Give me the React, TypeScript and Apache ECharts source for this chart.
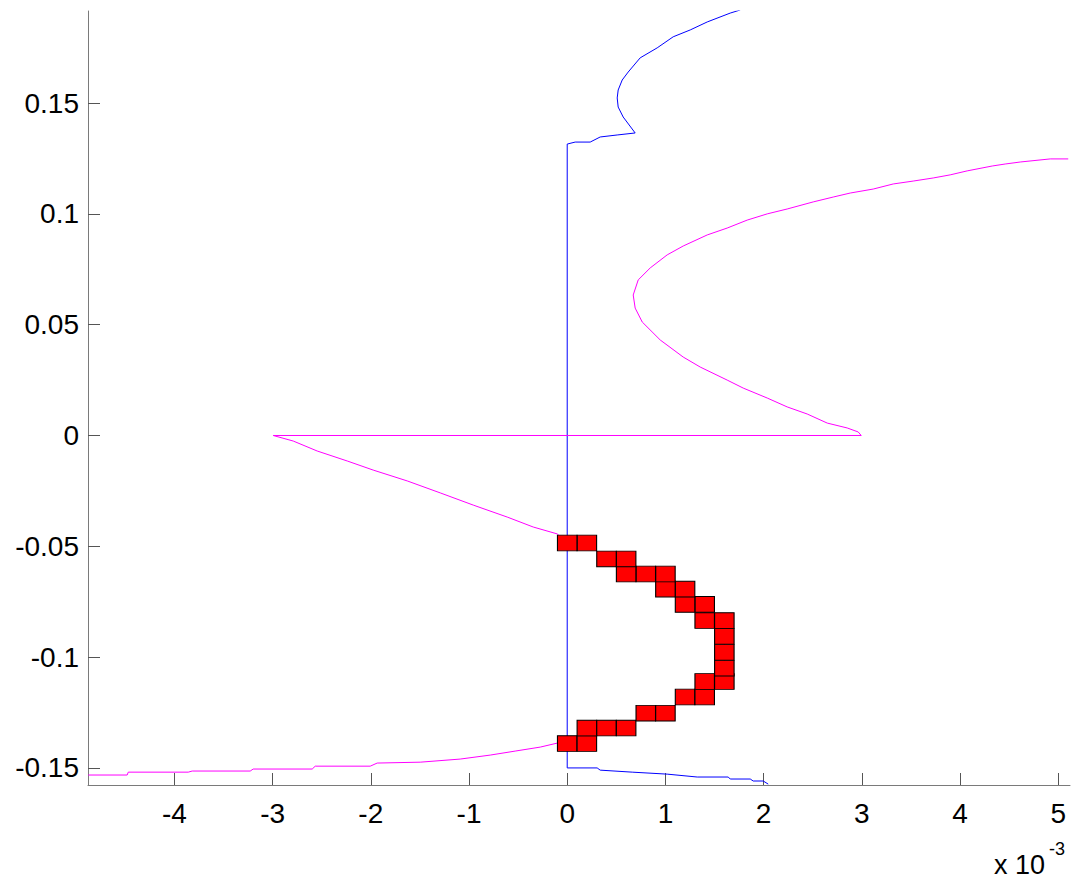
import React, { useEffect, useRef } from "react";
import * as echarts from "echarts";

// x values are in units of 1e-3
const blueX = [2.047, 1.996, 1.894, 1.864, 1.66, 1.64, 1.324, 1.018, 0.662, 0.336, 0.305, 0, 0, 0.081, 0.234, 0.336, 0.509, 0.692, 0.57, 0.519, 0.509, 0.519, 0.56, 0.621, 0.743, 0.916, 1.079, 1.253, 1.426, 1.66, 1.762];
const blueY = [-0.1573, -0.1559, -0.1559, -0.155, -0.155, -0.1541, -0.1541, -0.1528, -0.1519, -0.151, -0.15, -0.15, 0.1315, 0.1324, 0.1324, 0.1347, 0.1356, 0.1365, 0.1437, 0.1482, 0.1523, 0.1559, 0.1604, 0.164, 0.1704, 0.1749, 0.1799, 0.183, 0.1866, 0.1906, 0.192];

const magLowX = [-4.878, -4.481, -4.47, -3.859, -3.819, -3.228, -3.198, -2.597, -2.566, -2.006, -1.935, -1.497, -1.09, -0.784, -0.53, -0.275, -0.102];
const magLowY = [-0.1532, -0.1532, -0.1519, -0.1519, -0.1514, -0.1514, -0.1505, -0.1505, -0.1492, -0.1492, -0.1478, -0.1474, -0.146, -0.1442, -0.1424, -0.1406, -0.1388];

// square markers, ordered from bottom to top
const squareX = [0, 0.2, 0.2, 0.4, 0.6, 0.8, 1.0, 1.2, 1.4, 1.4, 1.6, 1.6, 1.6, 1.6, 1.6, 1.4, 1.4, 1.2, 1.2, 1.0, 1.0, 0.8, 0.6, 0.6, 0.4, 0.2, 0];
const squareY = [-0.139, -0.139, -0.132, -0.132, -0.132, -0.1253, -0.1253, -0.118, -0.118, -0.111, -0.111, -0.105, -0.0978, -0.0906, -0.0835, -0.0835, -0.0762, -0.0762, -0.0693, -0.0693, -0.0625, -0.0625, -0.0625, -0.0557, -0.0557, -0.0485, -0.0485];

const magHighX = [-0.102, -0.346, -0.611, -0.957, -1.293, -1.629, -1.976, -2.24, -2.546, -2.79, -2.994, 2.994, 2.963, 2.851, 2.648, 2.444, 2.24, 2.037, 1.792, 1.629, 1.354, 1.181, 0.947, 0.764, 0.692, 0.672, 0.723, 0.845, 1.018, 1.181, 1.426, 1.629, 1.833, 2.037, 2.24, 2.505, 2.709, 2.882, 3.116, 3.32, 3.523, 3.727, 3.9, 4.073, 4.328, 4.46, 4.613, 4.919, 5.102];
const magHighY = [-0.0444, -0.0413, -0.0368, -0.0314, -0.0259, -0.0205, -0.0156, -0.0115, -0.007, -0.0025, 0, 0, 0.0016, 0.0034, 0.0056, 0.0097, 0.0129, 0.0169, 0.0214, 0.025, 0.0309, 0.0354, 0.0431, 0.0512, 0.0575, 0.0634, 0.0702, 0.0756, 0.0815, 0.0855, 0.0905, 0.0936, 0.0972, 0.1, 0.1022, 0.1054, 0.1076, 0.1094, 0.1112, 0.1135, 0.1148, 0.1162, 0.1176, 0.1194, 0.1216, 0.1225, 0.1234, 0.1248, 0.1248];

const X_MIN = -4.88;
const X_MAX = 5.12;
const Y_MIN = -0.1577;
const Y_MAX = 0.19154;

const zip = (xs: number[], ys: number[]) => xs.map((x, i) => [x, ys[i]]);

export default function App() {
  const ref = useRef<HTMLDivElement>(null);
  useEffect(() => {
    if (!ref.current) return;
    const chart = echarts.init(ref.current, undefined, { renderer: "svg" });
    const font = "Liberation Sans, Arial, sans-serif";
    const magenta = [...zip(magLowX, magLowY), ...zip(squareX, squareY), ...zip(magHighX, magHighY)];
    chart.setOption({
      animation: false,
      backgroundColor: "#ffffff",
      grid: { left: 88, right: 2, top: 11, bottom: 94, containLabel: false },
      xAxis: {
        type: "value",
        min: X_MIN,
        max: X_MAX,
        splitNumber: 10,
        axisLine: { show: true, onZero: false, lineStyle: { color: "#7a7a7a", width: 1 } },
        axisTick: { show: true, inside: true, length: 12, lineStyle: { color: "#555", width: 1 } },
        axisLabel: { showMinLabel: false, showMaxLabel: false, fontSize: 28, color: "#000", fontFamily: font, margin: 14 },
        splitLine: { show: false },
      },
      yAxis: {
        type: "value",
        min: Y_MIN,
        max: Y_MAX,
        splitNumber: 7,
        axisLine: { show: true, onZero: false, lineStyle: { color: "#7a7a7a", width: 1 } },
        axisTick: { show: true, inside: true, length: 12, lineStyle: { color: "#555", width: 1 } },
        axisLabel: { showMinLabel: false, showMaxLabel: false, fontSize: 28, color: "#000", fontFamily: font, margin: 9 },
        splitLine: { show: false },
      },
      graphic: [
        { type: "text", left: 994, top: 851, style: { text: "x 10", fontSize: 27, fontFamily: font, fill: "#000" } },
        { type: "text", left: 1049, top: 840, style: { text: "-3", fontSize: 18, fontFamily: font, fill: "#000" } },
      ],
      series: [
        {
          type: "line",
          data: zip(blueX, blueY),
          symbol: "none",
          lineStyle: { color: "#0000ff", width: 1 },
          z: 2,
        },
        {
          type: "line",
          data: magenta,
          symbol: "none",
          lineStyle: { color: "#ff00ff", width: 1 },
          z: 2,
        },
        {
          type: "scatter",
          data: zip(squareX, squareY),
          symbol: "rect",
          symbolSize: [19.5, 15.7],
          itemStyle: { color: "#ff0000", borderColor: "#000", borderWidth: 1, opacity: 1 },
          z: 3,
        },
      ],
    });
    return () => chart.dispose();
  }, []);
  return <div ref={ref} style={{ position: "fixed", left: 0, top: 0, width: 1072, height: 879 }} />;
}
